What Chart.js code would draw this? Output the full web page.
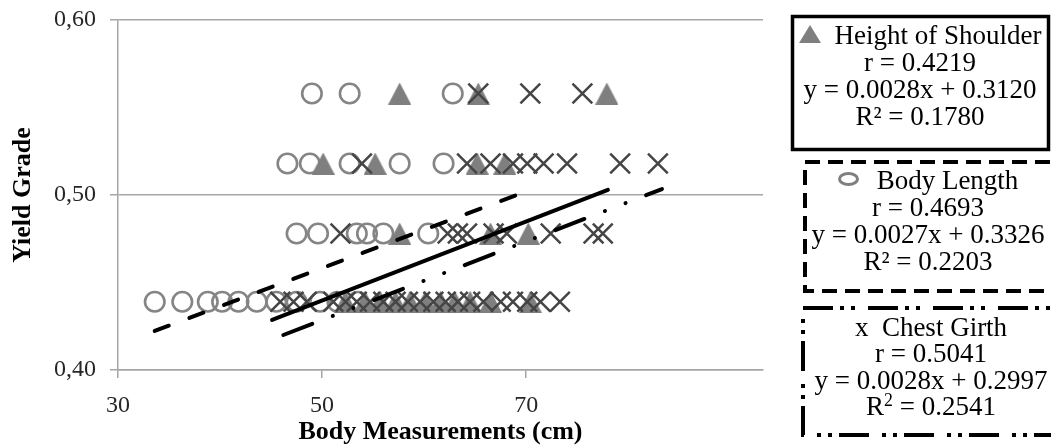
<!DOCTYPE html>
<html>
<head>
<meta charset="utf-8">
<script src="https://cdn.jsdelivr.net/npm/chart.js@4.4.1/dist/chart.umd.min.js"></script>
<style>
  html, body { margin: 0; padding: 0; background: #fff; }
  #wrap { position: relative; width: 1051px; height: 447px; overflow: hidden; }
  #chartBox { position: absolute; left: 0; top: 0; width: 1051px; height: 447px; }
  #frames { position: absolute; left: 0; top: 0; }
  .box {
    position: absolute;
    font-family: "Liberation Serif", "Times New Roman", serif;
    font-size: 27px;
    line-height: 27px;
    color: #000;
    text-align: center;
    white-space: nowrap;
  }
  .tri {
    display: inline-block; width: 0; height: 0;
    border-left: 11px solid transparent; border-right: 11px solid transparent;
    border-bottom: 18px solid #7f7f7f;
    margin-right: 14px; vertical-align: 1px;
  }
  .ring {
    display: inline-block; width: 15px; height: 8px;
    border: 3px solid #7f7f7f; border-radius: 50%;
    margin-right: 18px; vertical-align: 3px;
  }
  sup { font-size: 0.66em; line-height: 0; vertical-align: 0.5em; }
</style>
</head>
<body>
<div id="wrap">
  <div id="chartBox"><canvas id="yieldChart"></canvas></div>
  <svg id="frames" width="1051" height="447">
    <rect x="792.5" y="16.5" width="256" height="133" fill="none" stroke="#000" stroke-width="3.5"/>
    <rect x="805" y="162" width="262" height="129" fill="none" stroke="#000" stroke-width="4" stroke-dasharray="15 8"/>
    <rect x="803" y="308" width="262" height="127" fill="none" stroke="#000" stroke-width="4" stroke-dasharray="30 7 4 7 4 13"/>
  </svg>
  <div class="box" style="left:792px; top:22px; width:256px;">
    <div><span class="tri"></span>Height of Shoulder</div>
    <div>r = 0.4219</div>
    <div>y = 0.0028x + 0.3120</div>
    <div>R² = 0.1780</div>
  </div>
  <div class="box" style="left:805px; top:167px; width:246px;">
    <div><span class="ring"></span>Body Length</div>
    <div>r = 0.4693</div>
    <div>y = 0.0027x + 0.3326</div>
    <div>R² = 0.2203</div>
  </div>
  <div class="box" style="left:803px; top:314px; width:256px; line-height:26.3px;">
    <div>x&nbsp;&nbsp;Chest Girth</div>
    <div>r = 0.5041</div>
    <div>y = 0.0028x + 0.2997</div>
    <div>R<sup>2</sup> = 0.2541</div>
  </div>
</div>
<script>
// yield grade levels (one per row of markers)
const yieldRows = [0.558, 0.518, 0.478, 0.439];

// body measurement (cm) of each animal, grouped by yield row
const bodyLengthX = [
  [49.0, 52.7, 62.8],
  [46.6, 48.8, 52.7, 57.6, 61.9],
  [47.5, 49.6, 53.4, 54.4, 56.0, 60.4],
  [33.6, 36.3, 38.8, 40.2, 41.8, 43.6, 45.5, 47.5, 49.8, 51.5, 53.5]
];
const shoulderX = [
  [57.6, 65.3, 77.9],
  [50.1, 55.2, 65.2, 67.9],
  [57.6, 66.5, 70.2],
  [52.3, 54.2, 55.7, 57.2, 58.6, 60.1, 61.6, 63.0, 64.5, 66.5, 70.4]
];
const chestX = [
  [65.3, 70.4, 75.5],
  [53.9, 64.2, 66.5, 68.7, 70.1, 71.7, 74.0, 79.2, 82.9],
  [51.8, 62.3, 63.3, 64.2, 66.8, 68.1, 72.4, 76.6, 77.5],
  [45.9, 47.2, 48.5, 51.1, 52.3, 53.4, 54.7, 56.0, 57.2, 58.4, 59.6, 60.9, 62.1,
   63.3, 64.5, 65.8, 67.5, 68.7, 70.1, 71.4, 73.3]
];

// fitted lines as drawn (start / end)
const bodyLengthLineX = [33.6, 70.4];
const bodyLengthLineY = [0.4223, 0.5029];
const shoulderLineX = [45.1, 78.0];
const shoulderLineY = [0.4286, 0.5029];
const chestLineX = [46.2, 83.3];
const chestLineY = [0.4200, 0.5034];

const xTicks = [30, 50, 70];
const yTicks = [0.40, 0.50, 0.60];

function toPoints(rows) {
  return rows.flatMap((xs, i) => xs.map(x => ({ x: x, y: yieldRows[i] })));
}
function linePoints(xs, ys) {
  return xs.map((x, i) => ({ x: x, y: ys[i] }));
}

// centred grey triangle marker
const triImg = document.createElement('canvas');
triImg.width = 23; triImg.height = 22;
(function () {
  const c = triImg.getContext('2d');
  c.fillStyle = '#7f7f7f';
  c.beginPath();
  c.moveTo(11.5, 0); c.lineTo(23, 22); c.lineTo(0, 22); c.closePath();
  c.fill();
})();

const axisGray = '#a6a6a6';
const serif = '"Liberation Serif", "Times New Roman", serif';

new Chart(document.getElementById('yieldChart'), {
  type: 'scatter',
  data: {
    datasets: [
      {
        label: 'Body Length fit',
        data: linePoints(bodyLengthLineX, bodyLengthLineY),
        showLine: true, pointRadius: 0, borderColor: '#000', borderWidth: 4,
        borderDash: [15, 22], borderCapStyle: 'round'
      },
      {
        label: 'Height of Shoulder fit',
        data: linePoints(shoulderLineX, shoulderLineY),
        showLine: true, pointRadius: 0, borderColor: '#000', borderWidth: 4,
        borderCapStyle: 'round'
      },
      {
        label: 'Chest Girth fit',
        data: linePoints(chestLineX, chestLineY),
        showLine: true, pointRadius: 0, borderColor: '#000', borderWidth: 4,
        borderDash: [31, 22, 0.1, 22, 0.1, 22], borderCapStyle: 'round'
      },
      {
        label: 'Chest Girth',
        data: toPoints(chestX),
        pointStyle: 'crossRot', pointRadius: 14,
        borderColor: '#454545', borderWidth: 2.5
      },
      {
        label: 'Height of Shoulder',
        data: toPoints(shoulderX),
        pointStyle: triImg, pointRadius: 12
      },
      {
        label: 'Body Length',
        data: toPoints(bodyLengthX),
        pointStyle: 'circle', pointRadius: 9.75,
        borderColor: '#858585', borderWidth: 2.6,
        backgroundColor: 'rgba(0,0,0,0)'
      }
    ]
  },
  options: {
    responsive: true,
    maintainAspectRatio: false,
    animation: false,
    layout: { padding: { left: 0, top: 20, right: 288, bottom: 0 } },
    plugins: {
      legend: { display: false },
      tooltip: { enabled: false }
    },
    scales: {
      x: {
        type: 'linear',
        min: 30,
        max: 93.2,
        afterBuildTicks: s => { s.ticks = xTicks.map(v => ({ value: v })); },
        afterFit: s => { s.height = 77; },
        border: { color: axisGray, width: 1.5 },
        grid: { drawOnChartArea: false, color: axisGray, lineWidth: 1.5, tickLength: 8 },
        ticks: { color: '#262626', font: { family: serif, size: 24 }, padding: 13, maxRotation: 0 },
        title: {
          display: true,
          text: 'Body Measurements (cm)',
          color: '#000',
          font: { family: serif, size: 26, weight: 'bold', lineHeight: 1.1 },
          padding: { top: 0, bottom: 0 }
        }
      },
      y: {
        min: 0.4,
        max: 0.6,
        afterBuildTicks: s => { s.ticks = yTicks.map(v => ({ value: v })); },
        afterFit: s => { s.width = 118; s.paddingTop = 0; s.paddingBottom = 0; },
        border: { color: axisGray, width: 1.5 },
        grid: { color: axisGray, lineWidth: 1.5, tickLength: 8 },
        ticks: {
          color: '#262626', font: { family: serif, size: 24 }, padding: 14,
          callback: v => v.toFixed(2).replace('.', ',')
        },
        title: {
          display: true,
          text: 'Yield Grade',
          color: '#000',
          font: { family: serif, size: 26, weight: 'bold', lineHeight: 1.2 },
          padding: { top: 8, bottom: 0 }
        }
      }
    }
  }
});
</script>
</body>
</html>
